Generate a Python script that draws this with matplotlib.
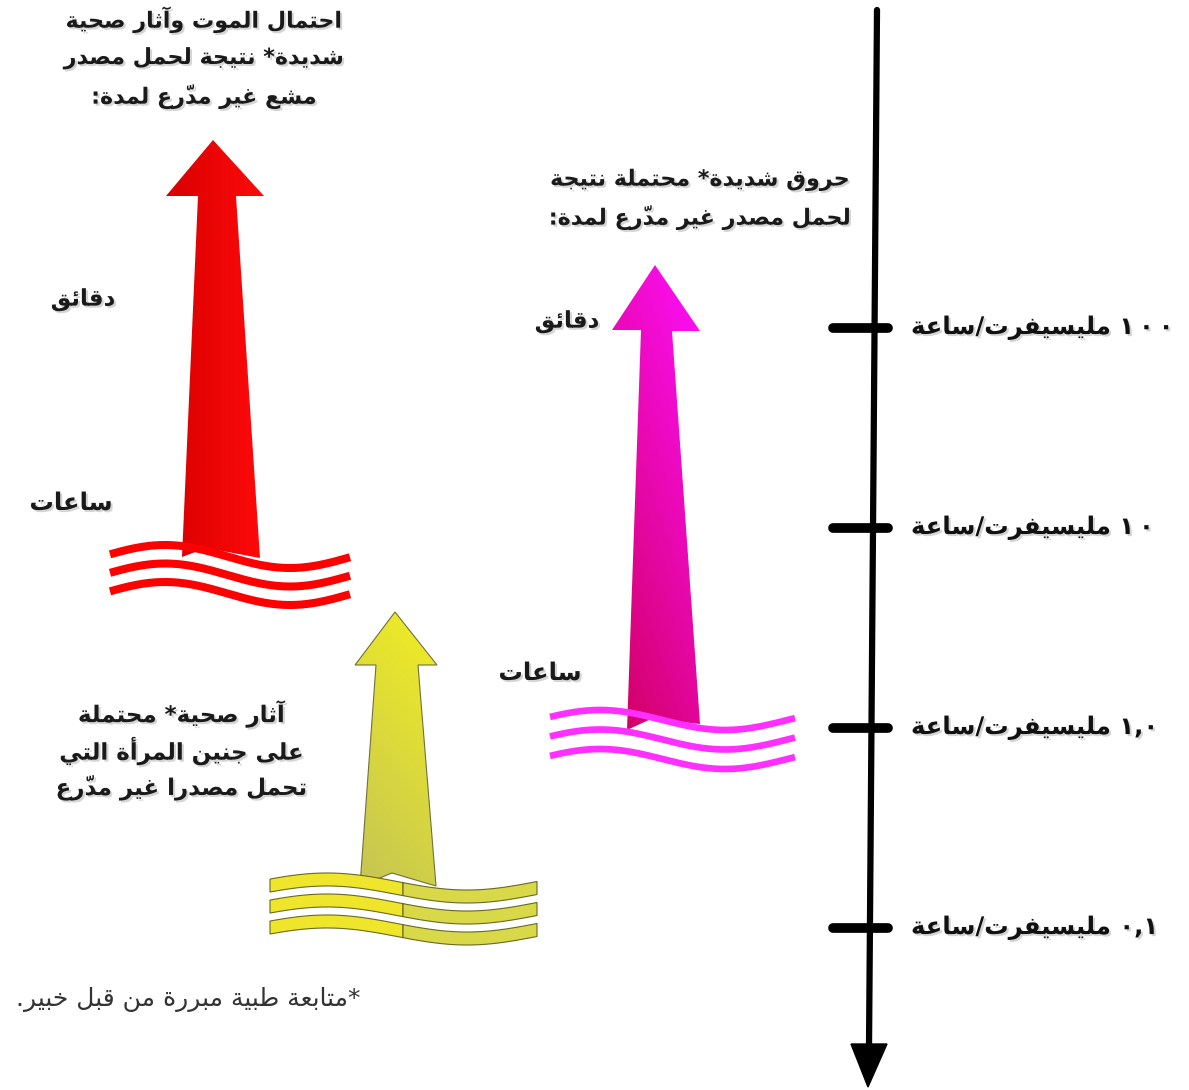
import numpy as np
import matplotlib
matplotlib.use("Agg")
import matplotlib.pyplot as plt
from matplotlib.patches import Polygon
import matplotlib.patheffects as pe

plt.rcParams["font.family"] = ["DejaVu Sans"]

# dose scale (mSv/h) and labels on the right hand axis
doses = [100, 10, 1.0, 0.1]
dose_labels = ["١٠٠ مليسيفرت/ساعة", "١٠ مليسيفرت/ساعة",
               "١,٠ مليسيفرت/ساعة", "٠,١ مليسيفرت/ساعة"]

red_text = ["احتمال الموت وآثار صحية", "شديدة* نتيجة لحمل مصدر", "مشع غير مدرّع لمدة:"]
pink_text = ["حروق شديدة* محتملة نتيجة", "لحمل مصدر غير مدرّع لمدة:"]
yellow_text = ["آثار صحية* محتملة", "على جنين المرأة التي", "تحمل مصدرا غير مدرّع"]
minutes_label = "دقائق"
hours_label = "ساعات"
footnote = "*متابعة طبية مبررة من قبل خبير."

# --- minimal arabic shaping (presentation forms + RTL ordering) ---
AR_LETTERS = "ءآأؤإئابةتثجحخدذرزسشصضطظعغفقكلمنهوىي"
AR_STARTS = [0xFE80, 0xFE81, 0xFE83, 0xFE85, 0xFE87, 0xFE89, 0xFE8D, 0xFE8F, 0xFE93,
             0xFE95, 0xFE99, 0xFE9D, 0xFEA1, 0xFEA5, 0xFEA9, 0xFEAB, 0xFEAD, 0xFEAF,
             0xFEB1, 0xFEB5, 0xFEB9, 0xFEBD, 0xFEC1, 0xFEC5, 0xFEC9, 0xFECD, 0xFED1,
             0xFED5, 0xFED9, 0xFEDD, 0xFEE1, 0xFEE5, 0xFEE9, 0xFEED, 0xFEEF, 0xFEF1]
FORMS = {}
for k, ch in enumerate(AR_LETTERS):
    nxt = AR_STARTS[k + 1] if k + 1 < len(AR_STARTS) else AR_STARTS[k] + 4
    FORMS[ch] = (AR_STARTS[k], nxt - AR_STARTS[k])
LAM_ALEF = {"آ": 0xFEF5, "أ": 0xFEF7, "إ": 0xFEF9, "ا": 0xFEFB}
DIGITS = "٠١٢٣٤٥٦٧٨٩0123456789"


def jtype(u):
    if isinstance(u, tuple):
        return "R"
    if u in FORMS:
        return {4: "D", 2: "R"}.get(FORMS[u][1], "U")
    return "U"


def ar(s, spread_digits=False):
    units = []
    i = 0
    while i < len(s):
        c = s[i]
        if 0x064B <= ord(c) <= 0x0652 and units:
            units[-1][1] += c
            i += 1
            continue
        if c == "ل" and i + 1 < len(s) and s[i + 1] in LAM_ALEF:
            units.append([("LA", s[i + 1]), ""])
            i += 2
            continue
        units.append([c, ""])
        i += 1
    out = []
    for idx, (u, marks) in enumerate(units):
        prev_d = idx > 0 and jtype(units[idx - 1][0]) == "D"
        next_j = idx + 1 < len(units) and jtype(units[idx + 1][0]) in ("D", "R")
        if isinstance(u, tuple):
            g = chr(LAM_ALEF[u[1]] + (1 if prev_d else 0))
        elif u in FORMS:
            base, n = FORMS[u]
            if n == 4:
                g = chr(base + (3 if prev_d and next_j else 1 if prev_d else 2 if next_j else 0))
            elif n == 2:
                g = chr(base + (1 if prev_d else 0))
            else:
                g = chr(base)
        else:
            g = u
        out.append(g + marks)
    out = out[::-1]
    # numbers stay left-to-right
    isnum = [o in DIGITS for o in out]
    for k in range(1, len(out) - 1):
        if out[k] == "," and isnum[k - 1] and isnum[k + 1]:
            isnum[k] = True
    res, k = [], 0
    while k < len(out):
        if isnum[k]:
            j = k
            while j < len(out) and isnum[j]:
                j += 1
            run = out[k:j][::-1]
            if spread_digits:
                run = [r + ("\u2009" if (r in DIGITS and n2 in DIGITS) else "")
                       for r, n2 in zip(run, run[1:] + [""])]
            res.extend(run)
            k = j
        else:
            res.append(out[k])
            k += 1
    return "".join(res)


W, H = 1189, 1090
fig = plt.figure(figsize=(W / 100, H / 100), dpi=100)
ax = fig.add_axes([0, 0, 1, 1])
ax.set_xlim(0, W)
ax.set_ylim(H, 0)
ax.axis("off")

shadow = [pe.withSimplePatchShadow(offset=(1.5, -1.5), shadow_rgbFace="#888888", alpha=0.35)]


def gradient_poly(pts, c0, c1, angle, z, edge="none", lw=0):
    poly = Polygon(pts, closed=True, facecolor="none", edgecolor=edge, lw=lw, zorder=z + 0.1)
    ax.add_patch(poly)
    xs = [p[0] for p in pts]
    ys = [p[1] for p in pts]
    gx, gy = np.meshgrid(np.linspace(0, 1, 200), np.linspace(0, 1, 200))
    a = np.deg2rad(angle)
    t = gx * np.cos(a) + gy * np.sin(a)
    t = (t - t.min()) / (t.max() - t.min())
    c0 = np.array(matplotlib.colors.to_rgb(c0))
    c1 = np.array(matplotlib.colors.to_rgb(c1))
    img = (1 - t)[..., None] * c0 + t[..., None] * c1
    im = ax.imshow(img, extent=(min(xs), max(xs), max(ys), min(ys)), origin="upper",
                   aspect="auto", zorder=z)
    im.set_clip_path(poly)


def wave(x0, x1, yc, amp, xpk, period):
    x = np.linspace(x0, x1, 200)
    return x, yc - amp * np.cos(2 * np.pi * (x - xpk) / period)


# red arrow + waves
gradient_poly([(182, 557), (198, 196), (166, 196), (213, 140), (264, 196), (236, 196),
               (260, 558), (206, 548)], "#d80000", "#ff0a0a", 0, 2)
for k in range(3):
    x, y = wave(110, 350, 556.5 + 18.5 * k, 11.5, 165, 250)
    ax.plot(x, y, color="#ff0000", lw=5.8, solid_capstyle="butt", zorder=3)

# magenta arrow + waves
gradient_poly([(627, 730), (641, 330), (612, 330), (655, 265), (700, 331), (672, 331),
               (700, 724), (651, 719)], "#d0005c", "#ff10ff", -60, 2)
for k in range(3):
    x, y = wave(550, 795, 720 + 19.5 * k, 10, 600, 250)
    ax.plot(x, y, color="#ff30ff", lw=4.8, solid_capstyle="butt", zorder=3)

# yellow arrow + waves
gradient_poly([(360, 886), (376, 665), (355, 665), (395, 612), (437, 665), (418, 665),
               (436, 886), (392, 873)], "#c4c455", "#f2ee22", -70, 2, edge="#707040", lw=0.8)
for k in range(3):
    for xa, xb, col in [(270, 403, "#efe52a"), (403, 537, "#d8d848")]:
        x, y = wave(xa, xb, 888 + 21 * k, 8.5, 327, 280)
        pts = np.vstack([np.column_stack([x, y - 6.5]), np.column_stack([x[::-1], y[::-1] + 6.5])])
        ax.add_patch(Polygon(pts, closed=True, facecolor=col, edgecolor="#6a6a22", lw=0.8, zorder=3))

# vertical dose axis
ax.plot([877, 869], [10, 1048], color="black", lw=4.5, solid_capstyle="round", zorder=4)
ax.add_patch(Polygon([(851, 1044), (887, 1044), (868, 1087)], closed=True, color="black", zorder=4))

axd = fig.add_axes([0, 0, 1, 1], facecolor="none")
axd.set_yscale("log")
axd.set_xlim(0, W)
axd.set_ylim(0.0155, 4365)
axd.axis("off")
for d, lab in zip(doses, dose_labels):
    axd.plot([833, 888], [d, d], color="black", lw=7, solid_capstyle="round", zorder=5)
    axd.text(911, d, ar(lab, spread_digits=True), ha="left", va="center", fontsize=17.5,
             fontweight="bold", color="#111111", path_effects=shadow)

# text blocks
def block(lines, xc, ys, size):
    for ln, y in zip(lines, ys):
        ax.text(xc, y, ar(ln), ha="center", va="center", fontsize=size, fontweight="bold",
                color="#1a1a1a", path_effects=shadow, zorder=6)

block(red_text, 204, [20, 58, 97], 16)
block(pink_text, 700, [180, 218], 16)
block(yellow_text, 181, [714, 751, 788], 16.5)
block([minutes_label], 83, [300], 16.5)
block([hours_label], 71, [503], 17.5)
block([minutes_label], 567, [322], 16.5)
block([hours_label], 540, [673], 17.5)
ax.text(188, 1000, ar(footnote), ha="center", va="center", fontsize=18, color="#333333")

fig.savefig("out.png", dpi=100, facecolor="white")
